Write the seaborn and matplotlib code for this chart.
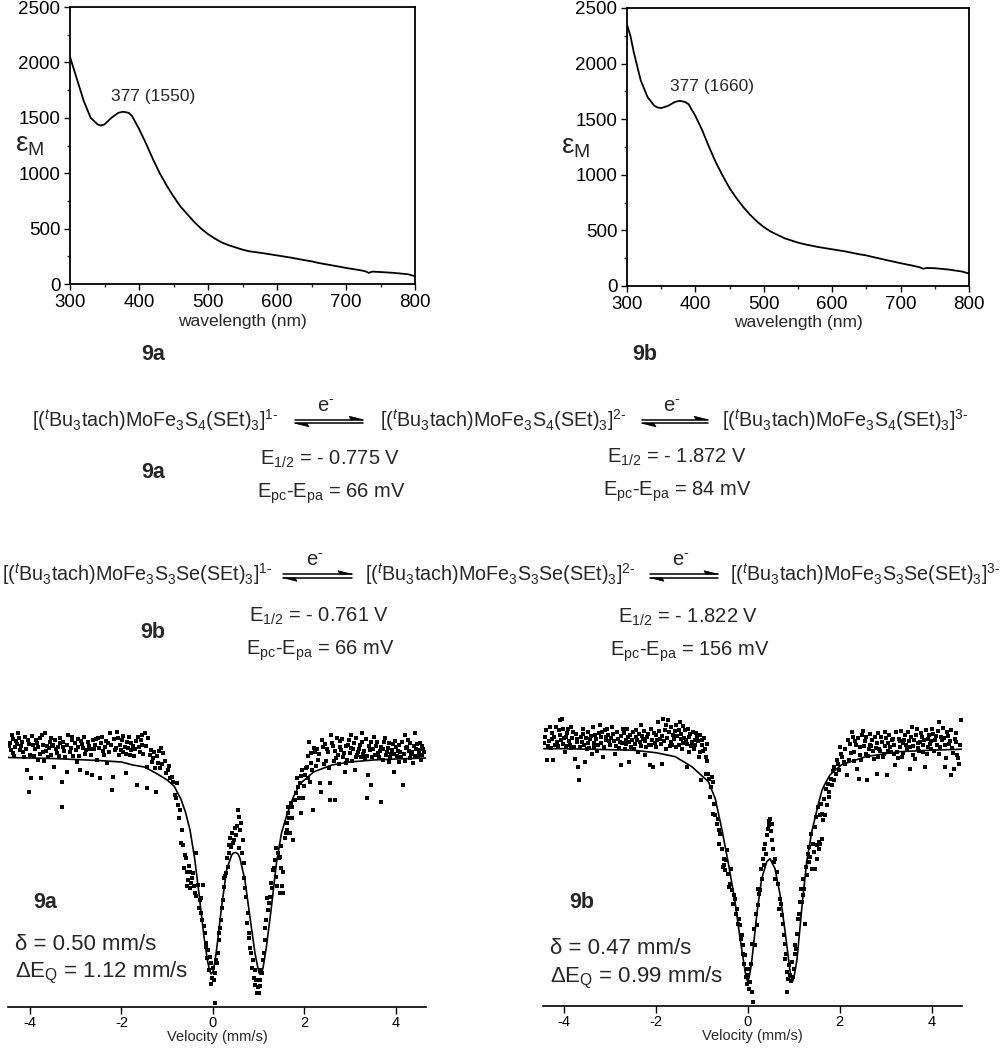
import numpy as np
import pandas as pd
import matplotlib
matplotlib.use("Agg")
import matplotlib.pyplot as plt
import seaborn as sns
from matplotlib.lines import Line2D
from matplotlib.patches import Polygon

sns.set_style("ticks")
plt.rcParams['font.family'] = ['Liberation Sans', 'DejaVu Sans']
plt.rcParams['mathtext.fontset'] = 'custom'
plt.rcParams['mathtext.rm'] = 'Liberation Sans'
plt.rcParams['mathtext.it'] = 'Liberation Sans:italic'
plt.rcParams['mathtext.bf'] = 'Liberation Sans:bold'

# ---------------- UV-vis data ----------------
uv_wl = [300, 305, 310, 320, 330, 340, 345, 350, 360, 370, 377, 385, 390, 400, 410, 420, 430, 440,
         450, 460, 470, 480, 490, 500, 510, 520, 530, 540, 550, 560, 580, 600, 620, 640, 650, 660,
         680, 700, 720, 728, 733, 738, 750, 770, 790, 800]
uv_9a = [2050, 1950, 1850, 1650, 1500, 1440, 1430, 1440, 1500, 1545, 1555, 1545, 1515, 1400, 1270,
         1130, 1000, 890, 790, 700, 630, 560, 500, 450, 410, 375, 350, 330, 310, 295, 278, 258, 238,
         215, 205, 190, 168, 145, 125, 115, 100, 112, 108, 100, 88, 70]
uv_9b = [2350, 2250, 2100, 1850, 1700, 1620, 1605, 1600, 1620, 1655, 1665, 1655, 1635, 1530, 1400,
         1250, 1110, 990, 880, 790, 710, 640, 580, 530, 490, 460, 430, 410, 390, 375, 350, 330, 310,
         285, 275, 260, 232, 205, 180, 168, 155, 162, 160, 148, 130, 112]
uv_peak_labels = ["377 (1550)", "377 (1660)"]

# ---------------- Moessbauer data: (velocity mm/s, absorption x 1e4 below baseline) ----------------
mb9a_points = [
    (-4.44, -15), (-4.42, -8), (-4.40, -23), (-4.36, -5), (-4.33, -11), (-4.30, -17), (-4.26, -25),
    (-4.22, -8), (-4.19, -12), (-4.15, -6), (-4.11, -21), (-4.07, 12), (-4.04, -18), (-4.03, 34),
    (-4.00, -3), (-3.97, 20), (-3.93, -13), (-3.89, -9), (-3.85, -15), (-3.82, 2), (-3.79, -4),
    (-3.76, 20), (-3.74, -23), (-3.71, -6), (-3.67, -25), (-3.63, -12), (-3.60, -1), (-3.56, -16),
    (-3.53, -20), (-3.49, -13), (-3.47, 9), (-3.44, -9), (-3.41, -5), (-3.37, -2), (-3.34, -15),
    (-3.31, 24), (-3.30, 49), (-3.27, -11), (-3.23, -1), (-3.20, 14), (-3.16, -23), (-3.13, -6),
    (-3.09, -18), (-3.05, -2), (-3.02, -15), (-2.98, 4), (-2.95, -11), (-2.91, 12), (-2.88, -17),
    (-2.84, -10), (-2.80, -4), (-2.76, 15), (-2.73, -16), (-2.69, -9), (-2.65, 17), (-2.62, -18),
    (-2.58, -13), (-2.54, 2), (-2.51, -20), (-2.47, 20), (-2.44, -15), (-2.40, -7), (-2.36, -11),
    (-2.32, 5), (-2.29, -15), (-2.25, -25), (-2.21, 32), (-2.18, 19), (-2.15, -8), (-2.10, -26),
    (-2.06, -3), (-2.03, -13), (-1.99, -18), (-1.96, -6), (-1.93, -11), (-1.89, 15), (-1.86, -10),
    (-1.82, -3), (-1.78, -15), (-1.71, -9), (-1.67, 27), (-1.64, -21), (-1.60, -6), (-1.56, -13),
    (-1.54, -23), (-1.52, -4), (-1.49, -25), (-1.45, 9), (-1.43, 30), (-1.38, -3), (-1.31, 0),
    (-1.27, 10), (-1.25, 34), (-1.20, 5), (-1.16, 10), (-1.13, -10), (-1.09, -5), (-0.98, 12),
    (-0.90, 19), (-0.87, 24), (-0.83, 37), (-0.79, 25), (-0.76, 47), (-0.72, 52), (-0.68, 72),
    (-0.66, 87), (-0.61, 97), (-0.57, 114), (-0.54, 122), (-0.50, 114), (-0.49, 130), (-0.47, 125),
    (-0.43, 115), (-0.40, 135), (-0.38, 95), (-0.33, 127), (-0.29, 142), (-0.25, 155), (-0.23, 162),
    (-0.21, 127), (-0.18, 175), (-0.14, 189), (-0.11, 192), (-0.07, 199), (-0.04, 205), (-0.02, 220),
    (0.00, 210), (0.04, 215), (0.05, 245), (0.07, 202), (0.11, 195), (0.14, 182), (0.18, 162),
    (0.22, 142), (0.25, 129), (0.29, 115), (0.33, 109), (0.36, 87), (0.40, 89), (0.47, 82),
    (0.51, 77), (0.55, 52), (0.58, 59), (0.62, 65), (0.66, 82), (0.69, 105), (0.73, 139), (0.76, 155),
    (0.80, 175), (0.84, 195), (0.87, 202), (0.91, 212), (0.93, 227), (0.95, 222), (0.98, 229),
    (1.02, 222), (1.06, 212), (1.09, 202), (1.13, 182), (1.17, 162), (1.20, 152), (1.24, 139),
    (1.31, 112), (1.35, 102), (1.38, 119), (1.42, 95), (1.46, 135), (1.47, 99), (1.50, 110),
    (1.53, 135), (1.54, 114), (1.60, 75), (1.61, 72), (1.64, 49), (1.65, 55), (1.68, 75), (1.72, 49),
    (1.76, 82), (1.79, 42), (1.83, 20), (1.86, 29), (1.90, 25), (1.93, 55), (1.95, 12), (1.97, 40),
    (2.01, 17), (2.05, 9), (2.08, -2), (2.10, -16), (2.12, 24), (2.15, 5), (2.19, 52), (2.23, -6),
    (2.27, -9), (2.30, 2), (2.34, 25), (2.37, 34), (2.41, -11), (2.45, -14), (2.48, 3), (2.52, -6),
    (2.55, 25), (2.57, 42), (2.59, -23), (2.62, -12), (2.66, 42), (2.70, 0), (2.74, -3), (2.77, -17),
    (2.81, -8), (2.85, -1), (2.88, 14), (2.92, 5), (2.95, -13), (2.99, -5), (3.03, -23), (3.06, -9),
    (3.10, 12), (3.13, -1), (3.17, -6), (3.21, -13), (3.25, -25), (3.28, -4), (3.32, 0), (3.36, 40),
    (3.39, 17), (3.43, -8), (3.46, 27), (3.49, -1), (3.53, -21), (3.57, -12), (3.61, -5), (3.65, -7),
    (3.68, 44), (3.71, 2), (3.75, -16), (3.79, -3), (3.83, -10), (3.86, 4), (3.90, -4), (3.94, -14),
    (3.97, 14), (4.01, -11), (4.04, -7), (4.08, 4), (4.12, -1), (4.15, 27), (4.19, -23), (4.22, -10),
    (4.26, -18), (4.30, 0), (4.33, -4), (4.37, 5), (4.41, -25), (4.44, -9), (4.48, -1), (4.51, -4),
    (4.55, 2), (4.58, -12), (4.62, -6)]
mb9a_points_more = [
    (-4.46, -12), (-4.38, -19), (-4.34, -2), (-4.28, -14), (-4.24, -20), (-4.17, -16), (-4.13, -1),
    (-4.09, -9), (-4.01, -14), (-3.95, -22), (-3.91, -2), (-3.87, -18), (-3.83, -11), (-3.78, -20),
    (-3.72, -13), (-3.69, 3), (-3.65, -7), (-3.58, -10), (-3.54, -3), (-3.51, -12), (-3.45, -18),
    (-3.39, -11), (-3.35, -20), (-3.28, -16), (-3.25, -7), (-3.18, -13), (-3.11, -10), (-3.07, -21),
    (-3.00, -8), (-2.96, -19), (-2.93, -2), (-2.86, -14), (-2.82, -21), (-2.78, -8), (-2.71, -12),
    (-2.67, -3), (-2.60, -9), (-2.56, -19), (-2.49, -10), (-2.42, -21), (-2.38, -3), (-2.34, -17),
    (-2.27, -6), (-2.23, -13), (-2.17, -19), (-2.12, -10), (-2.08, -20), (-2.01, -8), (-1.97, -22),
    (-1.91, -4), (-1.87, -16), (-1.84, -21), (-1.80, -8), (-1.75, -12), (-1.73, -2), (-1.69, -17),
    (-1.62, -11), (-1.58, -18), (-1.47, -12), (-1.41, -20), (-1.35, -8), (-1.33, 4), (-1.29, -6),
    (-1.22, -2), (-1.18, -7), (-1.11, 6), (-1.05, 3), (-1.02, 15), (-0.95, 8),
    (-0.93, 20), (-0.80, 40), (-0.74, 60), (-0.70, 85), (-0.64, 110), (-0.59, 100), (-0.56, 128),
    (-0.52, 108), (-0.45, 120), (-0.42, 128), (-0.36, 138), (-0.31, 150), (-0.27, 140), (-0.19, 168),
    (-0.16, 185), (-0.12, 200), (-0.09, 212), (-0.05, 226), (0.02, 222), (0.09, 205), (0.13, 175),
    (0.16, 170), (0.20, 150), (0.24, 120), (0.27, 118), (0.31, 100), (0.35, 95), (0.38, 80),
    (0.42, 75), (0.44, 85), (0.49, 70), (0.53, 68), (0.57, 90), (0.60, 72), (0.64, 95), (0.68, 120),
    (0.71, 130), (0.75, 165), (0.78, 180), (0.82, 190), (0.86, 210), (0.89, 220), (0.97, 235),
    (1.00, 235), (1.04, 228), (1.08, 215), (1.11, 195), (1.15, 170), (1.19, 140), (1.22, 145),
    (1.26, 125), (1.29, 130), (1.33, 110), (1.37, 90), (1.40, 128), (1.44, 100), (1.49, 88),
    (1.52, 128), (1.57, 80), (1.63, 65), (1.67, 60), (1.70, 45), (1.74, 60), (1.81, 35), (1.88, 40),
    (1.92, 18), (1.99, 28), (2.03, 10), (2.07, 20), (2.14, -5), (2.17, 12),
    (2.21, -10), (2.25, 8), (2.32, -4), (2.39, -18), (2.43, 6), (2.50, -9), (2.54, 10), (2.60, -15),
    (2.64, 3), (2.68, -7), (2.72, -20), (2.76, 6), (2.79, -11), (2.83, -19), (2.87, -5), (2.90, -12),
    (2.94, 2), (2.97, -18), (3.01, -10), (3.04, 3), (3.08, -15), (3.12, -20), (3.15, -3), (3.19, -9),
    (3.23, -1), (3.27, -16), (3.30, -7), (3.34, -19), (3.38, -2), (3.41, -12), (3.45, -16),
    (3.51, -9), (3.55, -3), (3.59, -16), (3.63, -1), (3.67, -11), (3.73, -9), (3.77, -20), (3.81, -6),
    (3.85, -15), (3.88, -1), (3.92, -8), (3.96, -4), (3.99, -17), (4.03, -2), (4.06, -13), (4.10, -6),
    (4.14, -16), (4.17, -4), (4.21, 3), (4.24, -11), (4.28, -7), (4.32, -15), (4.35, -6), (4.39, -12),
    (4.43, -2), (4.46, -14), (4.50, -8), (4.53, -15), (4.57, -3), (4.60, -9)]

mb9b_points = [
    (-4.41, -12), (-4.38, 11), (-4.35, -3), (-4.31, -22), (-4.27, -10), (-4.24, 11), (-4.20, -4),
    (-4.16, -7), (-4.12, -19), (-4.09, -29), (-4.05, -30), (-4.02, -5), (-3.98, 3), (-3.95, -12),
    (-3.91, -20), (-3.87, -4), (-3.84, -1), (-3.80, -17), (-3.77, 10), (-3.73, -10), (-3.69, 18),
    (-3.68, 31), (-3.66, -2), (-3.62, -7), (-3.58, -15), (-3.55, 13), (-3.51, 0), (-3.47, -6),
    (-3.44, -10), (-3.40, 5), (-3.36, -2), (-3.33, -14), (-3.26, -4), (-3.22, -24), (-3.19, -12),
    (-3.15, 8), (-3.11, -19), (-3.08, -9), (-3.04, -14), (-3.01, -4), (-2.93, -15), (-2.90, 5),
    (-2.87, -3), (-2.83, -10), (-2.79, -7), (-2.76, 16), (-2.72, -20), (-2.68, 0), (-2.65, -5),
    (-2.61, -12), (-2.58, 13), (-2.54, -2), (-2.50, -17), (-2.46, -5), (-2.43, -12), (-2.39, 3),
    (-2.35, -7), (-2.32, -24), (-2.28, -10), (-2.25, 6), (-2.21, -2), (-2.17, -15), (-2.14, 16),
    (-2.10, -4), (-2.07, 18), (-2.03, -6), (-1.99, -14), (-1.96, -27), (-1.92, -10), (-1.88, 15),
    (-1.85, -30), (-1.81, -19), (-1.78, 0), (-1.74, -29), (-1.70, -3), (-1.67, -7), (-1.63, -14),
    (-1.59, -18), (-1.56, -2), (-1.51, -4), (-1.48, -27), (-1.45, -10), (-1.44, 0), (-1.41, -6),
    (-1.37, -19), (-1.33, -5), (-1.32, 18), (-1.29, -12), (-1.28, 3), (-1.22, -7), (-1.18, 0),
    (-1.15, -9), (-1.11, -12), (-1.07, 8), (-1.04, 3), (-1.03, 31), (-1.00, -4), (-0.93, 0),
    (-0.92, 25), (-0.89, -5), (-0.86, 25), (-0.82, 48), (-0.78, 28), (-0.77, 65), (-0.75, 33),
    (-0.71, 66), (-0.68, 75), (-0.64, 81), (-0.60, 85), (-0.53, 116), (-0.49, 121), (-0.48, 111),
    (-0.46, 101), (-0.42, 138), (-0.35, 141), (-0.31, 146), (-0.28, 150), (-0.24, 160), (-0.20, 170),
    (-0.17, 176), (-0.13, 186), (-0.10, 196), (-0.06, 206), (-0.02, 220), (0.01, 226), (0.02, 240),
    (0.05, 233), (0.08, 243), (0.12, 253), (0.16, 196), (0.20, 176), (0.23, 156), (0.27, 141),
    (0.30, 130), (0.34, 116), (0.38, 95), (0.41, 86), (0.45, 76), (0.49, 70), (0.52, 75), (0.53, 91),
    (0.56, 113), (0.63, 123), (0.70, 150), (0.74, 166), (0.78, 186), (0.81, 210), (0.85, 223),
    (0.86, 243), (0.89, 216), (0.92, 226), (0.96, 213), (1.00, 220), (1.03, 196), (1.10, 170),
    (1.14, 153), (1.18, 153), (1.21, 146), (1.25, 175), (1.28, 126), (1.32, 113), (1.35, 108),
    (1.39, 120), (1.43, 103), (1.47, 120), (1.50, 110), (1.51, 96), (1.54, 100), (1.55, 93),
    (1.57, 95), (1.58, 66), (1.61, 90), (1.62, 65), (1.64, 71), (1.68, 66), (1.72, 56), (1.76, 48),
    (1.77, 43), (1.83, 36), (1.87, 31), (1.88, 18), (1.94, 11), (1.98, 21), (2.01, -2), (2.09, 13),
    (2.12, 0), (2.15, 26), (2.19, 11), (2.22, -5), (2.27, -17), (2.30, 3), (2.34, -8), (2.37, 20),
    (2.41, 30), (2.44, 6), (2.48, -14), (2.52, -3), (2.56, 5), (2.59, 31), (2.63, 0), (2.66, -4),
    (2.70, -9), (2.74, 10), (2.78, -1), (2.81, 25), (2.84, 8), (2.88, 2), (2.92, -7), (2.96, 5),
    (2.99, -17), (3.03, 26), (3.06, -6), (3.10, -2), (3.14, -9), (3.17, 5), (3.21, 16), (3.24, 3),
    (3.28, -10), (3.31, -2), (3.35, 8), (3.38, -6), (3.42, -14), (3.46, 0), (3.50, -8), (3.53, 20),
    (3.57, -22), (3.60, -3), (3.64, 10), (3.68, -20), (3.71, -1), (3.75, -7), (3.79, -12), (3.82, 3),
    (3.86, 18), (3.89, 5), (3.93, -10), (3.96, -5), (3.99, 0), (4.03, -15), (4.07, -9), (4.11, -4),
    (4.15, -27), (4.18, -2), (4.22, -9), (4.26, -11), (4.30, 18), (4.33, -17), (4.37, -5), (4.41, 26),
    (4.45, -1), (4.48, 20), (4.52, -7), (4.55, 6), (4.59, 15), (4.63, -29)]
mb9b_points_more = [
    (-4.43, -6), (-4.39, -19), (-4.33, -8), (-4.29, -1), (-4.26, -16), (-4.22, -12), (-4.18, -22),
    (-4.14, -3), (-4.10, -14), (-4.07, -9), (-4.03, -20), (-4.00, -11), (-3.96, -3), (-3.93, -16),
    (-3.89, -8), (-3.85, -22), (-3.82, -11), (-3.78, -2), (-3.75, -15), (-3.71, -7), (-3.64, -12),
    (-3.60, -20), (-3.56, -4), (-3.53, -11), (-3.49, -17), (-3.45, -1), (-3.42, -13), (-3.38, -22),
    (-3.35, -6), (-3.31, -10), (-3.28, 2), (-3.24, -16), (-3.20, -6), (-3.17, -17), (-3.13, -2),
    (-3.09, -12), (-3.06, -20), (-3.02, -8), (-2.98, -11), (-2.95, -22), (-2.91, -8), (-2.85, -17),
    (-2.81, -1), (-2.77, -13), (-2.74, -6), (-2.70, -16), (-2.66, -9), (-2.63, -20), (-2.59, -7),
    (-2.56, -14), (-2.52, -9), (-2.48, 0), (-2.44, -19), (-2.41, -9), (-2.37, -15), (-2.33, -3),
    (-2.30, -13), (-2.26, -18), (-2.23, -8), (-2.19, -12), (-2.15, -4), (-2.12, -20), (-2.08, -9),
    (-2.05, -16), (-2.01, -2), (-1.97, -9), (-1.94, -18), (-1.90, -5), (-1.86, -13), (-1.83, -8),
    (-1.79, -24), (-1.76, -11), (-1.72, -17), (-1.68, -22), (-1.65, -4), (-1.61, -10), (-1.57, -24),
    (-1.54, -13), (-1.50, -19), (-1.46, -15), (-1.42, -23), (-1.39, -11), (-1.35, -9), (-1.30, -20),
    (-1.26, -15), (-1.24, -3), (-1.20, -17), (-1.16, -4), (-1.13, -16), (-1.09, -8), (-1.05, -14),
    (-1.01, -9), (-0.97, 2), (-0.95, -11), (-0.91, 8), (-0.88, 12),
    (-0.84, 30), (-0.80, 38), (-0.73, 55), (-0.66, 70), (-0.62, 95), (-0.57, 100), (-0.55, 118),
    (-0.51, 110), (-0.44, 125), (-0.39, 135), (-0.37, 120), (-0.33, 155), (-0.26, 165), (-0.22, 175),
    (-0.15, 190), (-0.11, 205), (-0.08, 215), (-0.04, 228), (-0.01, 235), (0.03, 220), (0.06, 215),
    (0.10, 195), (0.14, 180), (0.18, 165), (0.22, 140), (0.25, 145), (0.29, 120), (0.32, 110),
    (0.36, 100), (0.40, 105), (0.43, 80), (0.47, 72), (0.50, 82), (0.55, 100), (0.58, 110),
    (0.60, 130), (0.66, 135), (0.68, 160), (0.72, 155), (0.76, 175), (0.80, 195), (0.83, 205),
    (0.88, 230), (0.94, 232), (0.98, 228), (1.02, 205), (1.05, 200), (1.07, 185), (1.12, 165),
    (1.16, 140), (1.20, 130), (1.23, 140), (1.27, 118), (1.30, 105), (1.34, 98), (1.37, 85),
    (1.41, 95), (1.45, 78), (1.49, 68), (1.53, 58), (1.59, 55), (1.66, 50), (1.70, 40), (1.74, 35),
    (1.80, 30), (1.85, 22), (1.91, 25), (1.96, 15), (2.02, 5),
    (2.05, 8), (2.11, 15), (2.17, -9), (2.24, 4), (2.29, -12), (2.32, 12), (2.36, -4), (2.39, -11),
    (2.43, -2), (2.46, 11), (2.50, -18), (2.54, -8), (2.58, -12), (2.61, 7), (2.65, -15), (2.68, -3),
    (2.72, 2), (2.76, -12), (2.80, -6), (2.83, -16), (2.86, 0), (2.90, -12), (2.94, 8), (2.98, -3),
    (3.01, -11), (3.05, 2), (3.08, -14), (3.12, 3), (3.15, -10), (3.19, -4), (3.23, -17), (3.26, 9),
    (3.30, -8), (3.33, -18), (3.37, 4), (3.40, -9), (3.44, -4), (3.48, -17), (3.52, -2), (3.55, -12),
    (3.59, 6), (3.62, -9), (3.66, -14), (3.70, -6), (3.73, 2), (3.77, -16), (3.81, -4), (3.84, -9),
    (3.88, -19), (3.91, -2), (3.95, -14), (3.98, -8), (4.01, -20), (4.05, 2), (4.09, -13),
    (4.13, -18), (4.16, 5), (4.20, -12), (4.24, -21), (4.28, -4), (4.31, 9), (4.35, -13), (4.39, -8),
    (4.43, -19), (4.47, 4), (4.50, -10), (4.54, -16), (4.57, 9), (4.61, -4)]

mb9a_fit = [
    (-4.48, -0.5), (-4.0, 0), (-3.5, 0.5), (-3.0, 1.5), (-2.5, 2.5), (-2.0, 4), (-1.75, 7), (-1.5, 9),
    (-1.25, 15), (-1.0, 22), (-0.85, 28), (-0.7, 41), (-0.6, 54), (-0.5, 72), (-0.4, 100), (-0.3, 137),
    (-0.2, 177), (-0.12, 202), (-0.08, 211), (-0.04, 216), (0.0, 214), (0.04, 205), (0.08, 192),
    (0.19, 149), (0.30, 112), (0.41, 97), (0.45, 95), (0.50, 94.5), (0.55, 96), (0.59, 100),
    (0.70, 122), (0.81, 159), (0.92, 195), (0.98, 209), (1.02, 216), (1.06, 216), (1.10, 209),
    (1.17, 189), (1.28, 149), (1.39, 105), (1.50, 75), (1.61, 58), (1.76, 39), (1.90, 26), (2.2, 14),
    (2.6, 7), (3.0, 4), (3.5, 2), (4.0, 1), (4.66, 0)]
mb9b_fit = [
    (-4.46, 0), (-4.0, 0), (-3.5, 0.5), (-3.0, 1), (-2.5, 1.5), (-2.0, 4), (-1.58, 8), (-1.22, 18),
    (-0.86, 33), (-0.71, 50), (-0.57, 80), (-0.42, 116), (-0.28, 153), (-0.17, 190), (-0.06, 223),
    (-0.03, 230), (0.0, 233), (0.03, 228), (0.06, 220), (0.09, 210), (0.20, 163), (0.30, 130),
    (0.41, 113), (0.48, 110), (0.59, 120), (0.70, 146), (0.81, 183), (0.91, 220), (0.94, 229),
    (0.97, 233), (1.00, 229), (1.04, 219), (1.07, 210), (1.18, 156), (1.28, 113), (1.39, 83),
    (1.54, 54), (1.61, 42), (1.68, 35), (1.79, 26), (2.04, 16), (2.56, 8), (3.28, 3), (4.0, 1.5),
    (4.66, 0.5)]

mb_params = [("δ = 0.50 mm/s", r"ΔE$_\mathrm{Q}$ = 1.12 mm/s"),
             ("δ = 0.47 mm/s", r"ΔE$_\mathrm{Q}$ = 0.99 mm/s")]

# ---------------- Figure ----------------
W, H = 1008, 1050
fig = plt.figure(figsize=(W / 100, H / 100), dpi=100)


def fx(px):
    return px / W


def fy(py):
    return 1 - py / H


def ftext(px, py, s, **kw):
    fig.text(fx(px), fy(py), s, transform=fig.transFigure, **kw)


# UV panels
uv_specs = [
    dict(rect=(70, 7, 415, 284), y=uv_9a, lab=uv_peak_labels[0], ann=(420, 1690), ylab_x=-0.116,
         name="9a", name_xy=(153, 355)),
    dict(rect=(627, 8, 969, 286), y=uv_9b, lab=uv_peak_labels[1], ann=(424, 1790), ylab_x=-0.150,
         name="9b", name_xy=(645, 354)),
]
for sp in uv_specs:
    l, t, r, b = sp["rect"]
    ax = fig.add_axes([fx(l), fy(b), (r - l) / W, (b - t) / H])
    df = pd.DataFrame({"wl": uv_wl, "eps": sp["y"]})
    sns.lineplot(data=df, x="wl", y="eps", ax=ax, color="black", lw=1.3, estimator=None)
    ax.set_xlim(300, 800)
    ax.set_ylim(0, 2500)
    ax.set_xticks([300, 400, 500, 600, 700, 800])
    ax.set_yticks([0, 500, 1000, 1500, 2000, 2500])
    ax.set_xticks(np.arange(350, 800, 100), minor=True)
    ax.set_yticks(np.arange(250, 2500, 500), minor=True)
    ax.tick_params(axis="both", which="major", direction="out", length=4, width=1,
                   labelsize=13.5, pad=3, colors="black")
    ax.tick_params(axis="both", which="minor", direction="out", length=2.5, width=1)
    for s in ax.spines.values():
        s.set_linewidth(1.3)
        s.set_color("black")
    ax.set_xlabel("wavelength (nm)", fontsize=12.5, labelpad=2)
    ax.set_ylabel(r"ε$_\mathrm{M}$", fontsize=20, rotation=0, va="center", ha="center")
    ax.yaxis.set_label_coords(sp["ylab_x"], 0.50)
    ax.text(sp["ann"][0], sp["ann"][1], sp["lab"], ha="center", va="center", fontsize=12.5)
    ftext(sp["name_xy"][0], sp["name_xy"][1], sp["name"], ha="center", va="center",
          fontsize=15.5, fontweight="bold")

# ---------------- Electrochemistry scheme ----------------
FS = 14.5
FS_SP = 14.2
sp1 = [r"[($^t$Bu$_3$tach)MoFe$_3$S$_4$(SEt)$_3$]$^{1\text{-}}$",
       r"[($^t$Bu$_3$tach)MoFe$_3$S$_4$(SEt)$_3$]$^{2\text{-}}$",
       r"[($^t$Bu$_3$tach)MoFe$_3$S$_4$(SEt)$_3$]$^{3\text{-}}$"]
sp2 = [r"[($^t$Bu$_3$tach)MoFe$_3$S$_3$Se(SEt)$_3$]$^{1\text{-}}$",
       r"[($^t$Bu$_3$tach)MoFe$_3$S$_3$Se(SEt)$_3$]$^{2\text{-}}$",
       r"[($^t$Bu$_3$tach)MoFe$_3$S$_3$Se(SEt)$_3$]$^{3\text{-}}$"]


def eq_arrow(x0, x1, y):
    kw = dict(color="black", lw=1.1, transform=fig.transFigure)
    yt, yb = y - 1.8, y + 1.8
    fig.add_artist(Line2D([fx(x0), fx(x1)], [fy(yt), fy(yt)], **kw))
    fig.add_artist(Line2D([fx(x0), fx(x1)], [fy(yb), fy(yb)], **kw))
    fig.add_artist(Polygon([(fx(x1), fy(yt)), (fx(x1 - 14), fy(yt - 3.5)), (fx(x1 - 12), fy(yt))],
                           closed=True, transform=fig.transFigure, color="black", lw=0.5))
    fig.add_artist(Polygon([(fx(x0), fy(yb)), (fx(x0 + 14), fy(yb + 3.5)), (fx(x0 + 12), fy(yb))],
                           closed=True, transform=fig.transFigure, color="black", lw=0.5))


rows = [
    dict(sp=sp1, xs=(32, 380, 722), base=427, arrows=[(295, 363), (642, 708)], aline=421.5,
         name="9a", name_y=473,
         pots=[(330, 465, r"E$_{1/2}$ = - 0.775 V"), (331, 498, r"E$_\mathrm{pc}$-E$_\mathrm{pa}$ = 66 mV"),
               (677, 463, r"E$_{1/2}$ = - 1.872 V"), (677, 496, r"E$_\mathrm{pc}$-E$_\mathrm{pa}$ = 84 mV")]),
    dict(sp=sp2, xs=(2, 365, 730), base=581, arrows=[(283, 352), (650, 718)], aline=576,
         name="9b", name_y=633,
         pots=[(319, 622, r"E$_{1/2}$ = - 0.761 V"), (320, 655, r"E$_\mathrm{pc}$-E$_\mathrm{pa}$ = 66 mV"),
               (688, 623, r"E$_{1/2}$ = - 1.822 V"), (690, 656, r"E$_\mathrm{pc}$-E$_\mathrm{pa}$ = 156 mV")]),
]
for row in rows:
    for x, s in zip(row["xs"], row["sp"]):
        ftext(x, row["base"], s, ha="left", va="baseline", fontsize=FS_SP)
    for (a0, a1) in row["arrows"]:
        eq_arrow(a0, a1, row["aline"])
        ftext((a0 + a1) / 2 - 3, row["aline"] - 10, r"e$^{\text{-}}$", ha="center", va="baseline",
              fontsize=FS)
    for (x, y, s) in row["pots"]:
        ftext(x, y, s, ha="center", va="baseline", fontsize=FS)
    ftext(153, row["name_y"], row["name"], ha="center", va="center", fontsize=15.5, fontweight="bold")

# ---------------- Moessbauer panels ----------------
mb_specs = [
    dict(l=8, r=426, axis_y=1006.7, base_y=758, xlim=(-4.48, 4.66), pts=mb9a_points + mb9a_points_more,
         fit=mb9a_fit, name="9a", name_xy=(45, 903), par=mb_params[0], par_x=15, par_y=(945, 973)),
    dict(l=543, r=962, axis_y=1005.7, base_y=748.7, xlim=(-4.46, 4.66), pts=mb9b_points + mb9b_points_more,
         fit=mb9b_fit, name="9b", name_xy=(582, 902), par=mb_params[1], par_x=550, par_y=(948, 978)),
]
top_px = 700
for sp in mb_specs:
    ax = fig.add_axes([fx(sp["l"]), fy(sp["axis_y"]), (sp["r"] - sp["l"]) / W,
                       (sp["axis_y"] - top_px) / H])
    pts = pd.DataFrame(sp["pts"], columns=["v", "absorb"])
    pts["trans"] = 1 - pts["absorb"] * 1e-4
    fit = pd.DataFrame(sp["fit"], columns=["v", "absorb"])
    fit["trans"] = 1 - fit["absorb"] * 1e-4
    sns.scatterplot(data=pts, x="v", y="trans", ax=ax, marker="s", s=6, color="black", linewidth=0)
    sns.lineplot(data=fit, x="v", y="trans", ax=ax, color="black", lw=1.2, estimator=None)
    ax.set_xlim(*sp["xlim"])
    ax.set_ylim(1 - (sp["axis_y"] - sp["base_y"]) * 1e-4, 1 + (sp["base_y"] - top_px) * 1e-4)
    ax.set_xticks([-4, -2, 0, 2, 4])
    ax.set_xticklabels(["-4", "-2", "0", "2", "4"])
    ax.set_yticks([])
    for k in ["left", "right", "top"]:
        ax.spines[k].set_visible(False)
    ax.spines["bottom"].set_linewidth(1.2)
    ax.spines["bottom"].set_color("black")
    ax.tick_params(axis="x", direction="out", length=5, width=1, labelsize=10.5, pad=2, colors="black")
    ax.set_xlabel("Velocity (mm/s)", fontsize=10.5, labelpad=0)
    ax.set_ylabel("")
    ftext(sp["name_xy"][0], sp["name_xy"][1], sp["name"], ha="center", va="center",
          fontsize=15.5, fontweight="bold")
    ftext(sp["par_x"], sp["par_y"][0], sp["par"][0], ha="left", va="center", fontsize=16)
    ftext(sp["par_x"], sp["par_y"][1], sp["par"][1], ha="left", va="center", fontsize=16)

fig.savefig("out.png", dpi=100)
